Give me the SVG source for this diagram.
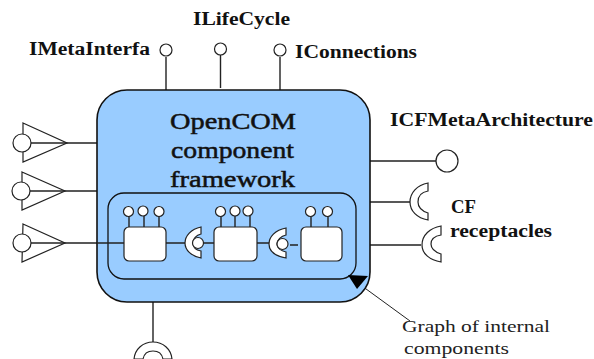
<svg xmlns="http://www.w3.org/2000/svg" width="594" height="359" viewBox="0 0 594 359">
<style>
.l{fill:none;stroke:#222;stroke-width:1.4}
.w{fill:#fff;stroke:#222;stroke-width:1.2}
.b{font-family:"Liberation Serif",serif;font-weight:bold;font-size:18px;fill:#111}
.t{font-family:"Liberation Serif",serif;font-size:24px;fill:#111;stroke:#111;stroke-width:.5}
.n{font-family:"Liberation Serif",serif;font-size:17px;fill:#222}
.sock{fill:#fff;stroke:#222;stroke-width:1.2}
</style>
<rect width="594" height="359" fill="#fff"/>
<g id="connectors">
<path class="l" d="M166 57V90M220.500 55V88M280 57V90"/>
<path class="l" d="M67 143H97M65 191H97M65 243H97"/>
<path class="l" d="M370 161H436M370 202H410M356 245H421"/>
<path class="l" d="M153 302V342"/>
<path d="M362 286L410 321" fill="none" stroke="#222" stroke-width="1"/>
</g>
<g id="framework"><rect x="97" y="90" width="273" height="212" rx="30" fill="#99ccff" stroke="#111" stroke-width="1.6"/>
<text class="t" x="170" y="129" textLength="126" lengthAdjust="spacingAndGlyphs">OpenCOM</text><text class="t" x="171" y="158" textLength="123" lengthAdjust="spacingAndGlyphs">component</text><text class="t" x="170" y="187" textLength="125" lengthAdjust="spacingAndGlyphs">framework</text></g>
<g id="internal"><rect x="108" y="193" width="248" height="86" rx="16" fill="#99ccff" stroke="#111" stroke-width="1.3"/></g>
<path class="l" d="M97 243H124M166 243H185M201 243H214M257 243H270M290 245H298"/>
<g id="comp1"><path class="l" d="M129 216V227M144 216V227M159 216V227"/><circle class="w" cx="128.500" cy="211.500" r="5"/><circle class="w" cx="143" cy="211" r="5"/><circle class="w" cx="159" cy="211.500" r="5"/><rect class="w" x="124" y="227" width="42" height="34" rx="5"/></g>
<g id="comp2"><path class="l" d="M221 216V227M235 216V227M250 216V227"/><circle class="w" cx="220.500" cy="211.500" r="5"/><circle class="w" cx="235" cy="211" r="5"/><circle class="w" cx="248" cy="211" r="5"/><rect class="w" x="214" y="227" width="43" height="34" rx="5"/></g>
<g id="comp3"><path class="l" d="M311 216V227M328 216V227"/><circle class="w" cx="310.500" cy="211.500" r="5"/><circle class="w" cx="327.500" cy="211.500" r="5"/><rect class="w" x="301" y="227" width="41" height="34" rx="5"/></g>
<g id="link1"><path class="sock" d="M201 227C191 229 185 236 185 243C185 250 191 256 201 258V251C196 250 193 247 193 243C193 239 196 235 201 234Z"/><circle class="w" cx="198" cy="243" r="5.500"/></g>
<g id="link2"><path class="sock" d="M286 228C275 230 269 237 269 244C269 251 275 256 286 258V252C281 251 277 248 277 244C277 240 281 236 286 235Z"/><circle class="w" cx="282.500" cy="244" r="5.500"/></g>
<g id="req1"><path class="w" d="M23 123L67 143L23 162Z"/><circle class="w" cx="22" cy="143" r="9"/><path class="l" d="M31 143H67"/></g>
<g id="req2"><path class="w" d="M22 172L65 191L22 210Z"/><circle class="w" cx="21" cy="191" r="9"/><path class="l" d="M30 191H65"/></g>
<g id="req3"><path class="w" d="M23 224L65 243L22 262Z"/><circle class="w" cx="22" cy="243" r="9"/><path class="l" d="M31 243H65"/></g>
<g id="meta"><circle class="w" cx="166" cy="50" r="6"/><text class="b" x="29" y="55" textLength="121" lengthAdjust="spacingAndGlyphs">IMetaInterfa</text></g>
<g id="life"><circle class="w" cx="220.500" cy="49" r="6"/><text class="b" x="193" y="25" textLength="97" lengthAdjust="spacingAndGlyphs">ILifeCycle</text></g>
<g id="conn"><circle class="w" cx="280" cy="50" r="6"/><text class="b" x="295" y="58" textLength="122" lengthAdjust="spacingAndGlyphs">IConnections</text></g>
<g id="cfmeta"><circle class="w" cx="447" cy="161" r="11"/><text class="b" x="390" y="126" textLength="203" lengthAdjust="spacingAndGlyphs">ICFMetaArchitecture</text></g>
<g id="rec1"><path class="sock" d="M428 183C417 185 410 193 410 202C410 211 417 218 428 220V213C422 211 418 207 418 202C418 196 422 192 428 191Z"/></g>
<g id="rec2"><path class="sock" d="M441 226C430 228 422 235 422 245C422 254 430 260 441 262V254C435 252 431 249 431 244C431 239 435 236 441 235Z"/></g>
<g id="cf"><text class="b" x="451" y="213" textLength="25" lengthAdjust="spacingAndGlyphs">CF</text><text class="b" x="450" y="237" textLength="102" lengthAdjust="spacingAndGlyphs">receptacles</text></g>
<g id="bottom"><path class="sock" d="M134 359C135 349 143 342 153 342C163 342 171 349 172 359H163C162 354 158 351 153 351C148 351 144 354 143 359Z"/></g>
<g id="note"><path d="M348 275L368 276L357 289Z" fill="#000"/><text class="n" x="402" y="332" textLength="148" lengthAdjust="spacingAndGlyphs">Graph of internal</text><text class="n" x="404" y="354" textLength="105" lengthAdjust="spacingAndGlyphs">components</text></g>
</svg>
